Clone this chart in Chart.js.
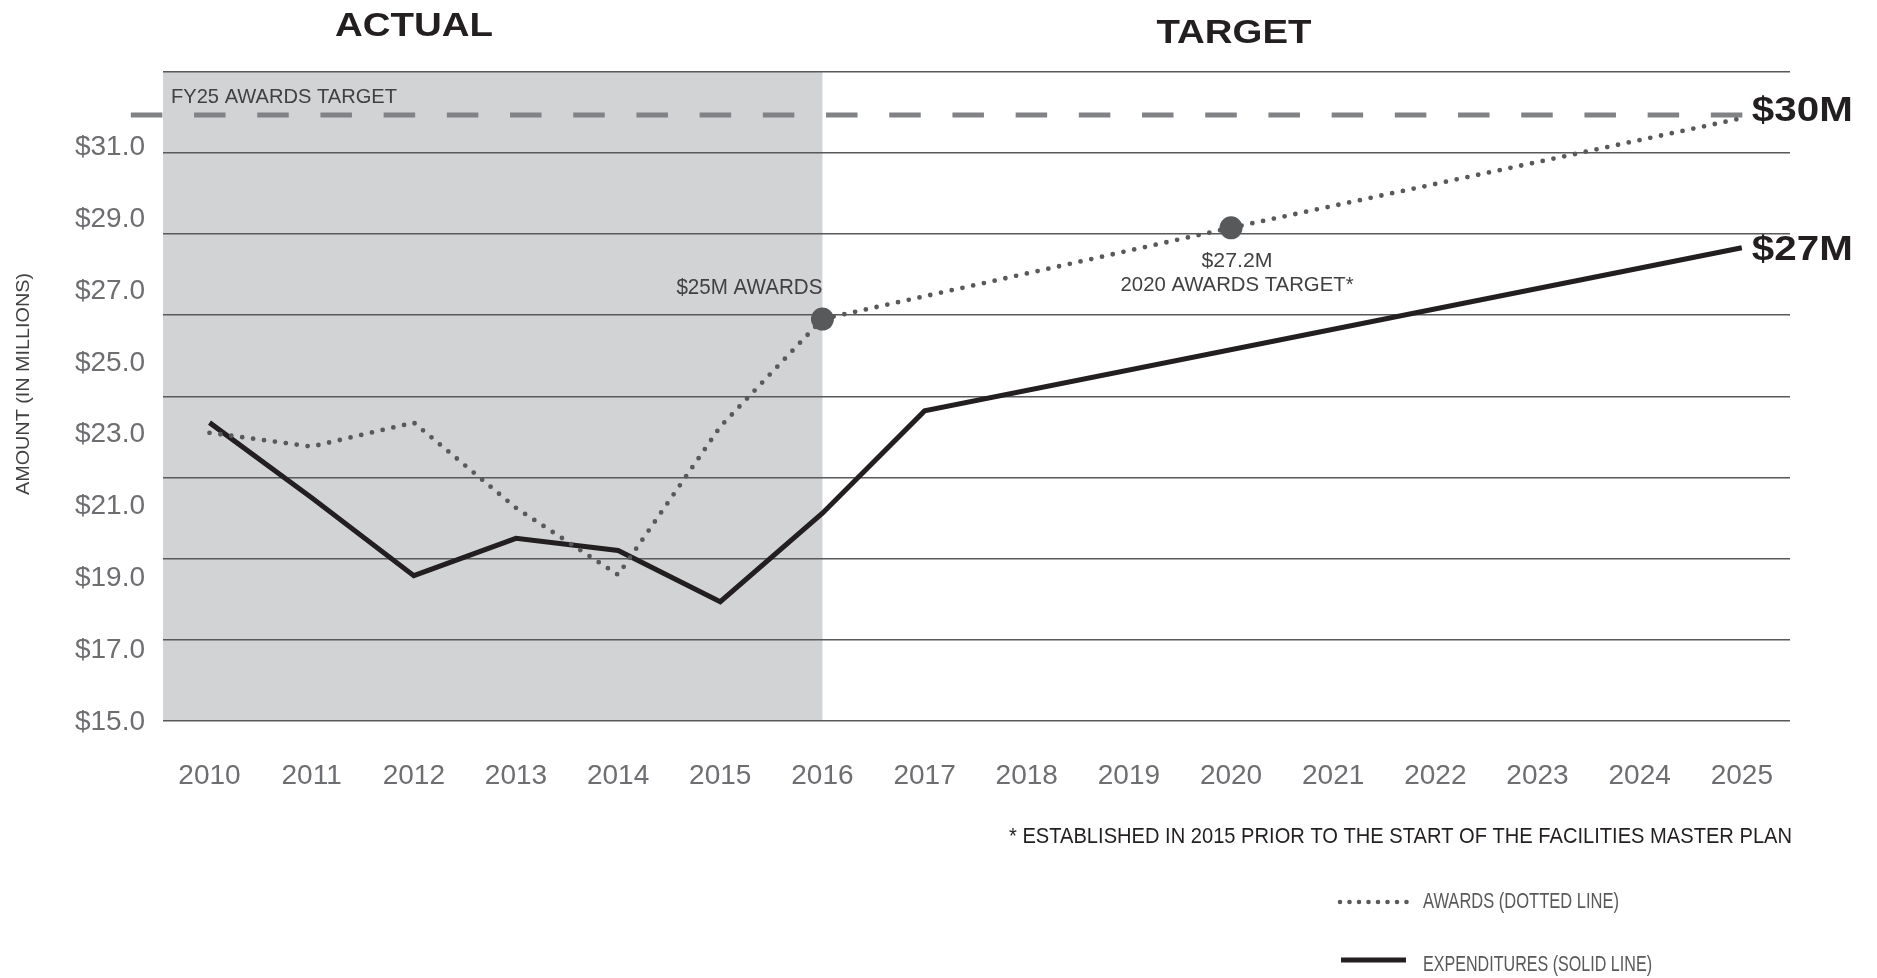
<!DOCTYPE html>
<html>
<head>
<meta charset="utf-8">
<script src="https://cdn.jsdelivr.net/npm/chart.js@4.4.1/dist/chart.umd.min.js"></script>
<style>
    html, body { margin: 0; padding: 0; background: #fff; }
    #wrap { position: relative; width: 1877px; height: 978px; }
</style>
</head>
<body>
<div id="wrap"><canvas id="awardsChart"></canvas></div>
<script>
// datos
var years = [2010, 2011, 2012, 2013, 2014, 2015, 2016, 2017, 2018, 2019, 2020, 2021, 2022, 2023, 2024, 2025];
var awards = [22.1, 21.76, 22.35, 20.25, 18.6, 22.25, 24.9, null, null, null, 27.15, null, null, null, null, 29.85];
var expenditures = [22.35, 20.5, 18.58, 19.5, 19.2, 17.94, 20.12, 22.64, null, null, null, null, null, null, null, 26.66];
var fy25Target = 29.93;
var fy25Span = [2009.23, 2025.02];
var markerYears = [2016, 2020];
var yGridValues = [15, 17, 19, 21, 23, 25, 27, 29, 31];
var yTickValues = [15, 17, 19, 21, 23, 25, 27, 29, 31];
var actualEndYear = 2016;

var FONT = "'Liberation Sans', Arial, Helvetica, sans-serif";

// texto con ancho ajustado (tipografia condensada)
function drawText(ctx, text, x, y, font, color, align, width, rotate) {
    ctx.save();
    ctx.font = font;
    ctx.fillStyle = color;
    ctx.textBaseline = 'middle';
    ctx.textAlign = align;
    var w = ctx.measureText(text).width;
    ctx.translate(x, y);
    if (rotate) ctx.rotate(rotate);
    if (width) ctx.scale(width / w, 1);
    ctx.fillText(text, 0, 0);
    ctx.restore();
}

var notesPlugin = {
    id: 'notes',
    beforeDraw: function (chart) {
        var ctx = chart.ctx, area = chart.chartArea;
        var xEnd = chart.scales.x.getPixelForValue(actualEndYear);
        ctx.save();
        ctx.fillStyle = '#d1d3d4';
        ctx.fillRect(area.left, area.top, xEnd - area.left, area.bottom - area.top);
        ctx.restore();
    },
    afterDraw: function (chart) {
        var ctx = chart.ctx, area = chart.chartArea;
        var xs = chart.scales.x, ys = chart.scales.y;
        var i16 = years.indexOf(2016), i20 = years.indexOf(2020), iEnd = years.length - 1;

        drawText(ctx, 'ACTUAL', 414, 27, 'bold 34px ' + FONT, '#231f20', 'center', 158);
        drawText(ctx, 'TARGET', 1234, 34, 'bold 34px ' + FONT, '#231f20', 'center', 155);

        // titulo del eje y
        drawText(ctx, 'AMOUNT (IN MILLIONS)', 24, 384, '19px ' + FONT, '#414042', 'center', 222, -Math.PI / 2);

        var yT = ys.getPixelForValue(fy25Target);
        drawText(ctx, 'FY25 AWARDS TARGET', area.left + 8, yT - 18, '21px ' + FONT, '#414042', 'left', 226);

        var x16 = xs.getPixelForValue(2016), y16 = ys.getPixelForValue(awards[i16]);
        drawText(ctx, '$25M AWARDS', x16, y16 - 31, '22px ' + FONT, '#414042', 'right', 146);

        var x20 = xs.getPixelForValue(2020), y20 = ys.getPixelForValue(awards[i20]);
        drawText(ctx, '$27.2M', x20 + 6, y20 + 33, '21px ' + FONT, '#414042', 'center', 71);
        drawText(ctx, '2020 AWARDS TARGET*', x20 + 6, y20 + 57, '21px ' + FONT, '#414042', 'center', 233);

        var xE = xs.getPixelForValue(2025);
        drawText(ctx, '$30M', xE + 10, yT - 4, 'bold 35px ' + FONT, '#231f20', 'left', 101);
        drawText(ctx, '$27M', xE + 10, ys.getPixelForValue(expenditures[iEnd]) + 3, 'bold 35px ' + FONT, '#231f20', 'left', 101);

        drawText(ctx, '* ESTABLISHED IN 2015 PRIOR TO THE START OF THE FACILITIES MASTER PLAN', 1792, 837, '22px ' + FONT, '#231f20', 'right', 783);

        // leyenda
        ctx.save();
        ctx.strokeStyle = '#58595b';
        ctx.lineWidth = 4.6;
        ctx.lineCap = 'round';
        ctx.setLineDash([0, 9.5]);
        ctx.beginPath();
        ctx.moveTo(1340, 902);
        ctx.lineTo(1407, 902);
        ctx.stroke();
        ctx.setLineDash([]);
        ctx.lineCap = 'butt';
        ctx.strokeStyle = '#231f20';
        ctx.lineWidth = 5;
        ctx.beginPath();
        ctx.moveTo(1341, 960);
        ctx.lineTo(1406, 960);
        ctx.stroke();
        ctx.restore();
        drawText(ctx, 'AWARDS (DOTTED LINE)', 1423, 902, '22px ' + FONT, '#58595b', 'left', 196);
        drawText(ctx, 'EXPENDITURES (SOLID LINE)', 1423, 965, '22px ' + FONT, '#58595b', 'left', 229);
    }
};

document.addEventListener('DOMContentLoaded', function () {
    Chart.defaults.font.family = FONT;

    var ctxAwards = document.getElementById('awardsChart').getContext('2d');
    var awardsChart = new Chart(ctxAwards, {
        type: 'line',
        data: {
            labels: years,
            datasets: [{
                label: 'FY25 AWARDS TARGET',
                data: fy25Span.map(function (v) { return { x: v, y: fy25Target }; }),
                borderColor: '#808285',
                borderWidth: 5,
                borderDash: [31.5, 31.7],
                pointRadius: 0,
                clip: false,
                order: 3
            }, {
                label: 'AWARDS (DOTTED LINE)',
                data: awards,
                borderColor: '#58595b',
                borderWidth: 4.8,
                borderDash: [0, 11],
                borderCapStyle: 'round',
                spanGaps: true,
                pointRadius: function (c) { return markerYears.indexOf(years[c.dataIndex]) >= 0 ? 11.5 : 0; },
                pointBackgroundColor: '#58595b',
                pointBorderWidth: 0,
                order: 1
            }, {
                label: 'EXPENDITURES (SOLID LINE)',
                data: expenditures,
                borderColor: '#231f20',
                borderWidth: 5,
                spanGaps: true,
                pointRadius: 0,
                order: 2
            }]
        },
        options: {
            responsive: true,
            maintainAspectRatio: false,
            animation: false,
            devicePixelRatio: 1,
            events: [],
            layout: { padding: { left: 0, top: 71.5, right: 87, bottom: 157 } },
            plugins: { legend: { display: false }, tooltip: { enabled: false } },
            scales: {
                x: {
                    type: 'linear',
                    min: 2009.5448,
                    max: 2025.4718,
                    bounds: 'data',
                    grid: { display: false, drawTicks: false },
                    border: { display: false },
                    afterBuildTicks: function (s) { s.ticks = years.map(function (v) { return { value: v }; }); },
                    afterFit: function (s) { s.height = 100; },
                    ticks: {
                        autoSkip: false,
                        maxRotation: 0,
                        padding: 38.5,
                        color: '#6d6e71',
                        font: { size: 28 },
                        callback: function (v) { return String(v); }
                    }
                },
                y: {
                    type: 'linear',
                    position: 'left',
                    min: 15,
                    max: 31,
                    bounds: 'data',
                    weight: 0,
                    grid: { color: '#58595b', lineWidth: 1.5, drawTicks: false },
                    border: { display: false },
                    ticks: { display: false },
                    afterBuildTicks: function (s) { s.ticks = yGridValues.map(function (v) { return { value: v }; }); },
                    afterFit: function (s) { s.width = 0; }
                },
                yLabels: {
                    type: 'linear',
                    position: 'left',
                    min: 14.958,
                    max: 33.047,
                    bounds: 'data',
                    weight: 1,
                    grid: { display: false, drawTicks: false },
                    border: { display: false },
                    afterBuildTicks: function (s) { s.ticks = yTickValues.map(function (v) { return { value: v }; }); },
                    afterFit: function (s) { s.width = 163; },
                    ticks: {
                        padding: 18,
                        labelOffset: 2.5,
                        color: '#6d6e71',
                        font: { size: 28 },
                        callback: function (v) { return '$' + v.toFixed(1); }
                    }
                }
            }
        },
        plugins: [notesPlugin]
    });
});
</script>
</body>
</html>
